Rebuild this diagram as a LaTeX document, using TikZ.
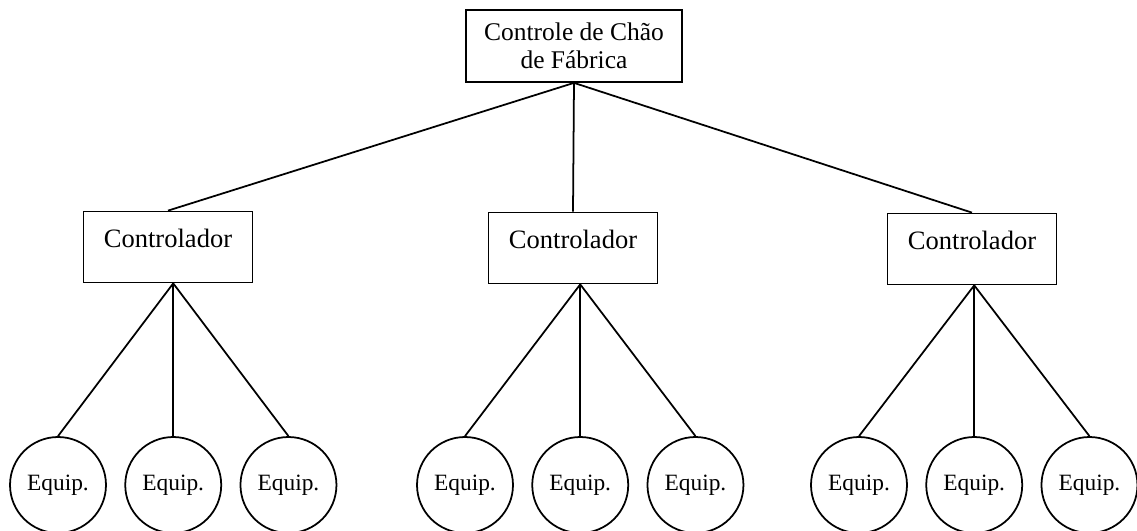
\documentclass[tikz,border=0pt]{standalone}
\usepackage{fontspec}
\setmainfont{Liberation Serif}
\usetikzlibrary{positioning, calc}

\begin{document}
\begin{tikzpicture}[x=0.02cm, y=-0.02cm, line width=1pt, node distance=0.35cm,
        every node/.style={draw, inner sep=0pt},
        ctrl/.style={rectangle, minimum width=3.38cm, text height=0.72cm, text depth=0.70cm, font=\fontsize{15.1}{18}\selectfont},
        equip/.style={circle, minimum size=1.92cm, font=\fontsize{13.3}{16}\selectfont}]
        \useasboundingbox (0,0) rectangle (1137,531);

        \node (top) [rectangle, minimum width=4.32cm, minimum height=1.44cm, align=center, font=\fontsize{14.5}{15.9}\selectfont] at (574,46) {Controle de Chão\\de Fábrica}; % Shop floor control

        \node (c1) [ctrl] at (168,247) {Controlador}; % Left controller
        \node (c2) [ctrl] at (573,248) {Controlador}; % Middle controller
        \node (c3) [ctrl] at (972,249) {Controlador}; % Right controller

        % Equipment under each controller
        \node (e11) [equip] at (58,485) {Equip.};
        \node (e12) [equip, right=of e11] {Equip.};
        \node (e13) [equip, right=of e12] {Equip.};
        \node (e21) [equip] at (465,485) {Equip.};
        \node (e22) [equip, right=of e21] {Equip.};
        \node (e23) [equip, right=of e22] {Equip.};
        \node (e31) [equip] at (859,485) {Equip.};
        \node (e32) [equip, right=of e31] {Equip.};
        \node (e33) [equip, right=of e32] {Equip.};

        \foreach \c in {c1, c2, c3} {
            \draw (top.south) -- (\c.north);
        }

        \foreach \g in {1, 2, 3} {
            \foreach \i in {1, 2, 3} {
                \draw (c\g.south -| e\g2.north) -- (e\g\i.north);
            }
        }
\end{tikzpicture}
\end{document}
